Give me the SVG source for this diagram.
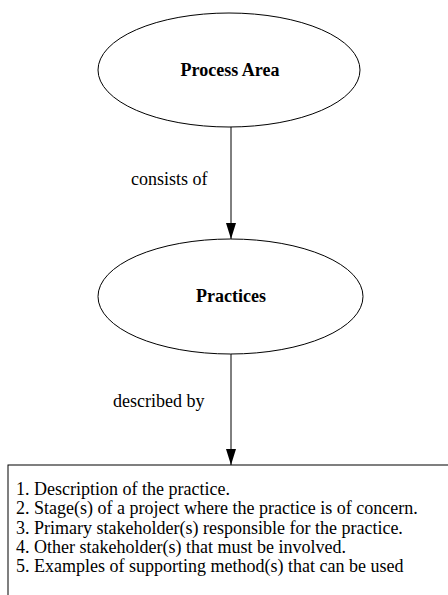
<svg xmlns="http://www.w3.org/2000/svg" width="448" height="595" viewBox="0 0 448 595">
<defs>
<marker id="arr" markerWidth="16" markerHeight="10" refX="16" refY="5" orient="auto" markerUnits="userSpaceOnUse" viewBox="0 0 16 10">
<path d="M0,0 L16,5 L0,10 Z" fill="#000"/>
</marker>
<style>
.shape{fill:#fff;stroke:#000;stroke-width:1}
.lbl{font-family:"Liberation Serif","Times New Roman",serif;font-size:18px;fill:#000}
.b{font-weight:bold;text-anchor:middle}
.edge{stroke:#000;stroke-width:1;fill:none}
</style>
</defs>
<rect width="448" height="595" fill="#fff"/>
<g id="connectors">
<line class="edge" x1="231" y1="127" x2="231" y2="239" marker-end="url(#arr)"/>
<text class="lbl" x="131" y="185">consists of</text>
<line class="edge" x1="231" y1="354" x2="231" y2="465" marker-end="url(#arr)"/>
<text class="lbl" x="113" y="407">described by</text>
</g>
<g id="process-area">
<ellipse class="shape" cx="229" cy="70" rx="131" ry="57"/>
<text class="lbl b" x="230" y="76">Process Area</text>
</g>
<g id="practices">
<ellipse class="shape" cx="230.5" cy="296.5" rx="132.5" ry="57.5"/>
<text class="lbl b" x="231" y="302">Practices</text>
</g>
<g id="description">
<rect class="shape" x="8" y="465" width="450" height="140"/>
<text class="lbl" x="16" y="495">1. Description of the practice.</text>
<text class="lbl" x="16" y="514">2. Stage(s) of a project where the practice is of concern.</text>
<text class="lbl" x="16" y="533.5">3. Primary stakeholder(s) responsible for the practice.</text>
<text class="lbl" x="16" y="553">4. Other stakeholder(s) that must be involved.</text>
<text class="lbl" x="16" y="572">5. Examples of supporting method(s) that can be used</text>
</g>
</svg>
